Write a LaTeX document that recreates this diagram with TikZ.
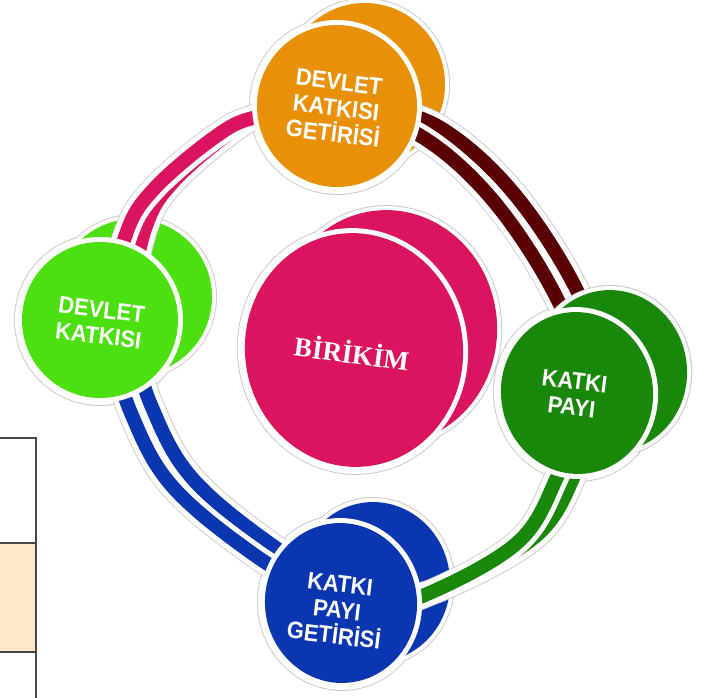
\documentclass[tikz,border=0pt]{standalone}
\usepackage{fontspec}
\setmainfont{Liberation Sans}
\newfontfamily\birfont{Liberation Serif}
\definecolor{cOrange}{RGB}{232,144,8}
\definecolor{cLime}{RGB}{76,224,16}
\definecolor{cDkGreen}{RGB}{24,135,10}
\definecolor{cBlue}{RGB}{10,54,176}
\definecolor{cPink}{RGB}{219,20,96}
\definecolor{cMaroon}{RGB}{88,0,0}
\definecolor{cHair}{RGB}{205,205,205}
\definecolor{cPeach}{RGB}{255,232,202}
\definecolor{cRule}{RGB}{70,70,70}
% ellipse: options, cx, cy, rx, ry, rotation
\newcommand\myEll[6]{\path[#1, rotate around={#6:(#2,#3)}] (#2,#3) ellipse [x radius=#4, y radius=#5];}
\newcommand\bandNW[1]{\path[#1] plot[smooth,tension=0.6] coordinates {(105,330) (125,237) (153,190) (215,137) (257,117) (335,108)};}
\newcommand\bandNE[1]{\path[#1] plot[smooth,tension=0.6] coordinates {(335,108) (419,135) (496,204) (562,309) (585,400)};}
\newcommand\bandSE[1]{\path[#1] plot[smooth,tension=0.6] coordinates {(585,400) (558,475) (517,543) (420,597) (350,612)};}
\newcommand\bandSW[1]{\path[#1] plot[smooth,tension=0.6] coordinates {(350,612) (256,556) (172,486) (131,413) (105,330)};}
\newcommand\allBands[1]{\bandNW{#1}\bandNE{#1}\bandSE{#1}\bandSW{#1}}
% coin outline: front cx cy rx ry rot, back bx by
\newcommand\coinOutline[7]{%
  \myEll{draw=cHair, line width=10}{#6}{#7}{#3}{#4}{#5}%
  \myEll{draw=cHair, line width=16}{#1}{#2}{#3}{#4}{#5}%
  \myEll{draw=white, line width=8}{#6}{#7}{#3}{#4}{#5}%
  \myEll{draw=white, line width=14}{#1}{#2}{#3}{#4}{#5}}
\newcommand\coinFront[6]{%
  \myEll{draw=white, line width=10}{#2}{#3}{#4}{#5}{#6}%
  \myEll{fill=#1}{#2}{#3}{#4}{#5}{#6}}
\begin{document}
\begin{tikzpicture}[x=1pt,y=-1pt,
  hairB/.style={draw=cHair, line width=26},
  whiteB/.style={draw=white, line width=24},
  colB/.style={draw=#1, line width=14},
  backring/.style={shift={(20,-8)}},
  txt/.style={text=white, font=\fontsize{22}{24}\selectfont\bfseries, align=center, rotate=-7, yscale=1.08, inner sep=0pt},
  birtxt/.style={text=white, font=\birfont\fontsize{27}{30}\selectfont\bfseries, rotate=-7.5, inner sep=0pt}]
\useasboundingbox (0,0) rectangle (702,698);

% table fragment on the left
\fill[cPeach] (0,543) rectangle (36,652);
\draw[cRule, line width=1.2] (0,438) -- (36,438) -- (36,698);
\draw[cRule, line width=1.2] (0,543) -- (36,543);
\draw[cRule, line width=1.2] (0,652) -- (36,652);

% layer A: coin outlines
\coinOutline{354}{350}{109}{117}{7}{388}{327}
\coinOutline{337}{106}{80}{81}{5}{365}{84}
\coinOutline{100}{320}{78}{78}{0}{134}{297}
\coinOutline{577}{393}{76}{81}{7}{611}{371}
\coinOutline{341}{603}{76}{80}{7}{374}{582}

% layer B: back disks
\myEll{fill=cPink}{388}{327}{109}{117}{7}
\myEll{fill=cOrange}{365}{84}{80}{81}{5}
\myEll{fill=cLime}{134}{297}{78}{78}{0}
\myEll{fill=cBlue}{374}{582}{76}{80}{7}

% layer C: ring bands (back ring, then front ring)
\allBands{hairB}
\allBands{hairB,backring}
\allBands{whiteB}
\allBands{whiteB,backring}
\bandNW{colB=cPink,backring}
\bandNE{colB=cMaroon,backring}
\bandSE{colB=cDkGreen,backring}
\bandSW{colB=cBlue,backring}
\allBands{whiteB}
\bandNW{colB=cPink}
\bandNE{colB=cMaroon}
\bandSE{colB=cDkGreen}
\bandSW{colB=cBlue}

% layer D: dark green back disk over the maroon band
\myEll{draw=cHair, line width=10}{611}{371}{76}{81}{7}
\myEll{draw=white, line width=8}{611}{371}{76}{81}{7}
\myEll{fill=cDkGreen}{611}{371}{76}{81}{7}

% layer E: front disks
\coinFront{cPink}{354}{350}{109}{117}{7}
\coinFront{cOrange}{337}{106}{80}{81}{5}
\coinFront{cLime}{100}{320}{78}{78}{0}
\coinFront{cDkGreen}{577}{393}{76}{81}{7}
\coinFront{cBlue}{341}{603}{76}{80}{7}

% texts
\node[birtxt] (birikim) at (352,352) {BİRİKİM};
\node[txt] (dkg) at (336,108) {DEVLET\\KATKISI\\GETİRİSİ};
\node[txt] (dk) at (100,323) {DEVLET\\KATKISI};
\node[txt] (kp) at (573,394) {KATKI\\PAYI};
\node[txt] (kpg) at (337,610) {KATKI\\PAYI\\GETİRİSİ};
\end{tikzpicture}
\end{document}
